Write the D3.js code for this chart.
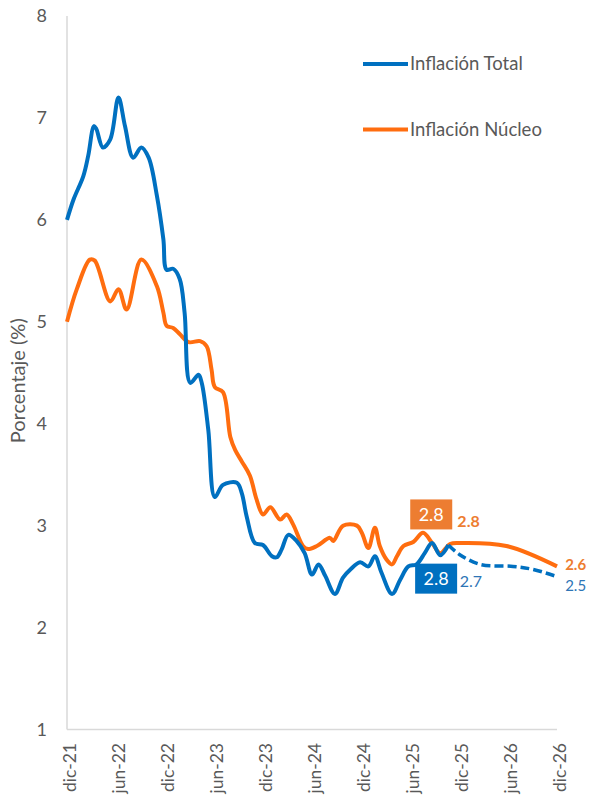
<!DOCTYPE html>
<html>
<head>
<meta charset="utf-8">
<script src="https://cdn.jsdelivr.net/npm/d3@7"></script>
<style>
  body { margin: 0; background: #fff; }
  text { font-family: Lato, "Liberation Sans", sans-serif; }
</style>
</head>
<body>
<div id="chart"></div>
<script>
// months counted from dic-21
const xTickMonths = [0, 6, 12, 18, 24, 30, 36, 42, 48, 54, 60];
const xTickLabels = ["dic-21", "jun-22", "dic-22", "jun-23", "dic-23", "jun-24",
                     "dic-24", "jun-25", "dic-25", "jun-26", "dic-26"];
const yTicks = [1, 2, 3, 4, 5, 6, 7, 8];

// Inflación Total (observed)
const totalMonth = [0, 0.8, 2.0, 2.6, 3.3, 3.6, 4.4, 5.3, 6.3, 7.1, 8.1, 9.1, 10.0, 11.0, 11.8,
  12.2, 13.0, 13.8, 14.4, 15.1, 16.1, 16.5, 17.3, 18.1, 19.1, 20.8, 21.4, 22.0, 23.0, 24.0,
  25.1, 25.7, 26.3, 27.1, 28.1, 29.1, 30.0, 30.8, 31.6, 32.8, 33.8, 34.7, 35.9, 36.9, 37.7,
  38.5, 39.8, 40.8, 41.8, 42.8, 43.8, 44.7, 45.7, 46.7];
const totalValue = [6.00, 6.20, 6.43, 6.63, 6.92, 6.89, 6.71, 6.79, 7.20, 6.92, 6.61, 6.71, 6.61, 6.24, 5.81,
  5.51, 5.52, 5.42, 5.09, 4.40, 4.48, 4.40, 3.94, 3.28, 3.40, 3.42, 3.32, 3.09, 2.83, 2.81,
  2.70, 2.69, 2.77, 2.91, 2.85, 2.73, 2.52, 2.62, 2.51, 2.33, 2.49, 2.57, 2.64, 2.60, 2.70,
  2.54, 2.33, 2.47, 2.60, 2.62, 2.73, 2.83, 2.71, 2.81];

// Inflación Total (projection, dashed)
const totalFcMonth = [46.7, 48, 50.6, 54.6, 57.1, 60];
const totalFcValue = [2.81, 2.72, 2.62, 2.60, 2.57, 2.50];

// Inflación Núcleo
const coreMonth = [0, 1.2, 2.8, 3.4, 5.3, 6.3, 7.3, 9.1, 11.0, 11.8, 12.2, 13.0, 13.8, 14.9,
  16.3, 17.1, 17.7, 18.1, 19.1, 20.0, 20.6, 21.4, 22.4, 23.2, 24.0, 24.9, 26.1, 26.9, 27.7,
  28.9, 29.5, 30.6, 32.2, 32.6, 33.8, 35.5, 36.1, 36.9, 37.7, 38.3, 39.1, 39.8, 40.4, 41.2,
  42.4, 43.6, 44.7, 45.7, 46.9, 48.1, 53.8, 60];
const coreValue = [5.00, 5.32, 5.61, 5.60, 5.20, 5.32, 5.12, 5.61, 5.35, 5.09, 4.96, 4.94, 4.88, 4.80,
  4.81, 4.76, 4.53, 4.36, 4.31, 3.87, 3.74, 3.63, 3.49, 3.26, 3.11, 3.18, 3.06, 3.11, 3.01,
  2.80, 2.77, 2.80, 2.88, 2.85, 3.00, 3.00, 2.93, 2.78, 2.98, 2.80, 2.67, 2.62, 2.70, 2.80,
  2.84, 2.93, 2.83, 2.73, 2.82, 2.83, 2.80, 2.60];

const blue = "#0070C0";
const orange = "#FF6D0F";
const labelOrange = "#ED7D31";
const grey = "#595959";

let width = 592, height = 797;

let svg = d3.select("#chart").append("svg")
    .attr("width", width)
    .attr("height", height);

let x = d3.scaleLinear().domain([0, 60]).range([67, 557]);
let y = d3.scaleLinear().domain([1, 8]).range([729.5, 16]);

// axes lines
svg.append("line")
    .attr("x1", x(0)).attr("x2", x(0))
    .attr("y1", y(8)).attr("y2", y(1))
    .attr("stroke", "#D9D9D9").attr("stroke-width", 1.5);
svg.append("line")
    .attr("x1", x(0)).attr("x2", x(60))
    .attr("y1", y(1)).attr("y2", y(1))
    .attr("stroke", "#D9D9D9").attr("stroke-width", 1.5);

// y tick labels
svg.append("g").selectAll("text").data(yTicks).enter()
    .append("text")
    .attr("x", 47)
    .attr("y", d => y(d))
    .attr("dy", "0.35em")
    .style("text-anchor", "end")
    .style("font-size", "18px")
    .style("fill", grey)
    .text(d => d);

// x tick labels
svg.append("g").selectAll("text").data(xTickMonths).enter()
    .append("text")
    .attr("transform", d => `translate(${x(d) + 3}, 743) rotate(-90)`)
    .attr("dy", "0.35em")
    .style("text-anchor", "end")
    .style("font-size", "17.5px")
    .style("fill", grey)
    .text((d, i) => xTickLabels[i]);

// y axis title
svg.append("text")
    .attr("transform", `translate(18, ${(y(8) + y(1)) / 2 + 8}) rotate(-90)`)
    .attr("dy", "0.35em")
    .style("text-anchor", "middle")
    .style("font-size", "20px")
    .style("fill", grey)
    .text("Porcentaje (%)");

let line = d3.line()
    .x(d => x(d[0]))
    .y(d => y(d[1]))
    .curve(d3.curveCatmullRom.alpha(0.5));

let coreData = d3.zip(coreMonth, coreValue);
let totalData = d3.zip(totalMonth, totalValue);
let totalFcData = d3.zip(totalFcMonth, totalFcValue);

svg.append("path").datum(coreData)
    .attr("d", line)
    .attr("fill", "none")
    .attr("stroke", orange)
    .attr("stroke-width", 4)
    .attr("stroke-linejoin", "round");

svg.append("path").datum(totalFcData)
    .attr("d", line)
    .attr("fill", "none")
    .attr("stroke", blue)
    .attr("stroke-width", 3.5)
    .attr("stroke-dasharray", "9,4");

svg.append("path").datum(totalData)
    .attr("d", line)
    .attr("fill", "none")
    .attr("stroke", blue)
    .attr("stroke-width", 4)
    .attr("stroke-linejoin", "round");

// legend
let legend = [["Inflación Total", blue, 64], ["Inflación Núcleo", orange, 129.5]];
legend.forEach(function(l) {
    svg.append("line")
        .attr("x1", 363).attr("x2", 408)
        .attr("y1", l[2]).attr("y2", l[2])
        .attr("stroke", l[1]).attr("stroke-width", 4);
    svg.append("text")
        .attr("x", 410).attr("y", l[2])
        .attr("dy", "0.35em")
        .style("font-size", "18.5px")
        .style("fill", grey)
        .text(l[0]);
});

// boxed labels for the last observed values
function boxLabel(m, v, fill, txt) {
    let cx = x(m), cy = y(v);
    svg.append("rect")
        .attr("x", cx - 21).attr("y", cy - 15)
        .attr("width", 42).attr("height", 30)
        .attr("fill", fill);
    svg.append("text")
        .attr("x", cx).attr("y", cy)
        .attr("dy", "0.35em")
        .style("text-anchor", "middle")
        .style("font-size", "18px")
        .style("fill", "#fff")
        .text(txt);
}
boxLabel(44.6, 3.11, labelOrange, "2.8");
boxLabel(45.2, 2.48, blue, "2.8");

function sideLabel(m, v, color, bold, size, txt) {
    svg.append("text")
        .attr("x", x(m)).attr("y", y(v))
        .attr("dy", "0.35em")
        .style("font-size", size + "px")
        .style("font-weight", bold ? "bold" : "normal")
        .style("fill", color)
        .text(txt);
}
sideLabel(47.8, 3.04, labelOrange, true, 16, "2.8");
sideLabel(48.1, 2.45, "#2E75B6", false, 16, "2.7");
sideLabel(61, 2.615, labelOrange, true, 15, "2.6");
sideLabel(61, 2.41, "#2E75B6", false, 15, "2.5");
</script>
</body>
</html>
